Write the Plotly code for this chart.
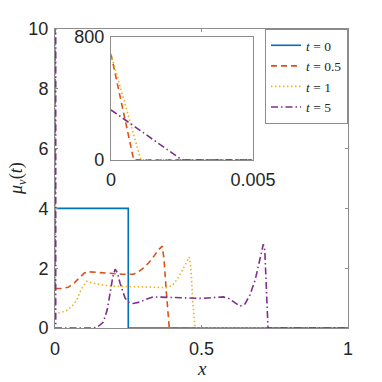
import plotly.graph_objects as go

# ---- data ----
x_t0 = [0, 0.25, 0.25, 1]
y_t0 = [4, 4, 0, 0]

x_t05 = [0, 0.0008, 0.02, 0.045, 0.065, 0.085, 0.1, 0.113, 0.14, 0.188, 0.23, 0.268,
         0.285, 0.30, 0.32, 0.336, 0.352, 0.366, 0.372, 0.38, 0.39, 1]
y_t05 = [690, 1.32, 1.32, 1.36, 1.5, 1.71, 1.84, 1.88, 1.86, 1.82, 1.8, 1.8,
         1.88, 1.99, 2.18, 2.38, 2.6, 2.74, 2.3, 1.2, 0, 0]

x_t1 = [0, 0.00105, 0.02, 0.04, 0.06, 0.074, 0.09, 0.108, 0.13, 0.16, 0.2, 0.25, 0.3,
        0.38, 0.4, 0.415, 0.43, 0.445, 0.458, 0.464, 0.47, 0.478, 1]
y_t1 = [690, 0.48, 0.52, 0.59, 0.75, 0.93, 1.3, 1.56, 1.5, 1.44, 1.4, 1.38, 1.37,
        1.35, 1.42, 1.6, 1.85, 2.15, 2.37, 2.0, 0.9, 0, 0]

x_t5 = [0, 0.0025, 0.13, 0.145, 0.165, 0.178, 0.188, 0.197, 0.205, 0.213, 0.222, 0.239,
        0.252, 0.267, 0.29, 0.31, 0.336, 0.37, 0.42, 0.46, 0.5, 0.54, 0.574, 0.595,
        0.615, 0.631, 0.648, 0.665, 0.683, 0.697, 0.711, 0.716, 0.722, 0.727, 1]
y_t5 = [326, 0, 0, 0.03, 0.2, 0.6, 1.16, 1.7, 1.97, 1.85, 1.5, 1.0,
        0.86, 0.82, 0.87, 0.96, 1.04, 1.03, 1.0, 0.98, 0.99, 1.02, 1.04, 0.98,
        0.84, 0.73, 0.8, 1.1, 1.6, 2.2, 2.8, 2.6, 1.3, 0, 0]

labels = ["<i>t</i> = 0", "<i>t</i> = 0.5", "<i>t</i> = 1", "<i>t</i> = 5"]
colors = ["#0072BD", "#D95319", "#EDB120", "#7E2F8E"]
dashes = ["solid", "6px,4px", "1.5px,2.5px", "7px,3px,1.5px,3px"]
series = [(x_t0, y_t0), (x_t05, y_t05), (x_t1, y_t1), (x_t5, y_t5)]

fig = go.Figure()
for (xs, ys), lab, c, d in zip(series, labels, colors, dashes):
    fig.add_trace(go.Scatter(x=xs, y=ys, mode="lines", name=lab,
                             line=dict(color=c, width=1.6, dash=d),
                             xaxis="x", yaxis="y"))
# inset (t = 0.5, 1, 5)
for (xs, ys), lab, c, d in list(zip(series, labels, colors, dashes))[1:]:
    fig.add_trace(go.Scatter(x=xs, y=ys, mode="lines", name=lab, showlegend=False,
                             line=dict(color=c, width=1.6, dash=d),
                             xaxis="x2", yaxis="y2"))

axis_common = dict(showline=True, linecolor="#8c8c8c", linewidth=1, mirror="ticks",
                   ticks="inside", ticklen=3, tickcolor="#8c8c8c", showgrid=False,
                   zeroline=False, automargin=False,
                   tickfont=dict(family="Liberation Sans, Arial", size=18, color="#262626"))

fig.update_layout(
    width=374, height=374,
    margin=dict(l=47, r=34, t=21, b=54, autoexpand=False),
    paper_bgcolor="white", plot_bgcolor="white",
    showlegend=True,
    legend=dict(x=1, y=1, xanchor="right", yanchor="top",
                bgcolor="white", bordercolor="#8c8c8c", borderwidth=1,
                font=dict(family="Liberation Serif", size=13.5, color="#262626"),
                itemwidth=30, tracegroupgap=0),
    xaxis=dict(axis_common, domain=[0, 1], range=[0, 1], tickvals=[0, 0.5, 1],
               ticktext=["0", "0.5", "1"], ticklabelstandoff=4),
    yaxis=dict(axis_common, domain=[0, 1], range=[0, 10], tickvals=[0, 2, 4, 6, 8, 10],
               ticklabelstandoff=2),
    xaxis2=dict(axis_common, domain=[0.191, 0.676], range=[0, 0.005], anchor="y2",
                tickvals=[0, 0.005], ticktext=["0", "0.005"], ticklabelstandoff=3),
    yaxis2=dict(axis_common, domain=[0.562, 0.973], range=[0, 800], anchor="x2",
                tickvals=[0, 800], ticktext=["0", "800"], ticklabelstandoff=2),
    annotations=[
        dict(text="<i>x</i>", xref="paper", yref="paper", x=0.5, y=-0.134,
             xanchor="center", yanchor="middle", showarrow=False,
             font=dict(family="Liberation Serif", size=19, color="#262626")),
        dict(text="<i>μ</i><sub><i>ν</i></sub>(<i>t</i>)", xref="paper", yref="paper",
             x=-0.128, y=0.5, xanchor="center", yanchor="middle", showarrow=False,
             textangle=-90,
             font=dict(family="Liberation Serif", size=18, color="#262626")),
    ],
)

fig.write_html("out.html")
